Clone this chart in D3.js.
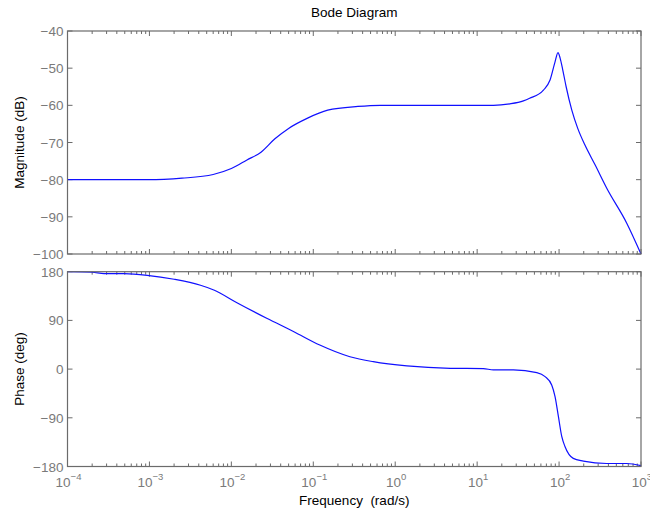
<!DOCTYPE html>
<html lang="en">
<head>
  <meta charset="UTF-8">
  <title>Bode Diagram</title>
  <script src="https://d3js.org/d3.v7.min.js"></script>
  <style>
    body { margin: 0; background: #fff; font-family: "Liberation Sans", Arial, sans-serif; }
    .tick-label { fill: #7a7a7a; font-size: 13.5px; }
    .frame { fill: none; stroke: #6b6b6b; stroke-width: 1.2; }
    .tk { stroke: #6b6b6b; stroke-width: 1; }
    .curve { fill: none; stroke: #1010ff; stroke-width: 1.2; }
    .lbl { fill: #000; font-size: 13.5px; }
  </style>
</head>
<body>
  <svg width="650" height="514"></svg>

  <script>
    // frequency samples (rad/s) and values
    const magFreq = [1e-4, 1e-3, 1.5e-3, 2.5e-3, 6e-3, 1e-2, 1.55e-2, 2.3e-2, 3.4e-2, 5e-2,
                     8.4e-2, 0.15, 0.35, 0.66, 1, 15.8, 25, 36.7, 43.7, 64.4,
                     77.6, 89.3, 97, 103, 111, 122, 143, 169, 207, 275, 382, 670, 1000];
    const magDb = [-80, -80, -79.9, -79.6, -78.6, -77, -74.7, -72.6, -69, -66.2,
                   -63.5, -61.3, -60.3, -60, -60, -60, -59.6, -58.8, -58.1, -55.9,
                   -53.2, -48.3, -45.8, -47.3, -50.5, -55, -61.3, -66.2, -70.7, -76, -82.3, -91.7, -100];

    const phFreq = [1e-4, 2e-4, 2.8e-4, 4.9e-4, 9.4e-4, 2e-3, 4.2e-3, 6.1e-3, 1.17e-2, 2.7e-2,
                    5.8e-2, 0.12, 0.28, 0.54, 1.39, 4.7, 11.9, 15.8, 27.7, 53.5,
                    67.5, 81.3, 89.3, 98.2, 108, 118, 149, 198, 381, 670, 1000];
    const phDeg = [180, 179, 176.3, 176.3, 173.3, 166, 154.9, 146.2, 122.7, 93.9,
                   69.1, 44.5, 22.9, 13.7, 5.8, 1.5, 1, -1.6, -1.6, -6.6,
                   -14, -29.4, -51, -88, -125, -143, -165, -170, -174.5, -174.5, -178.5];

    const magTicks = [-40, -50, -60, -70, -80, -90, -100];
    const phTicks = [180, 90, 0, -90, -180];
    const decades = [-4, -3, -2, -1, 0, 1, 2, 3];

    const svg = d3.select("svg");
    const left = 67.5, right = 641;

    const x = d3.scaleLog().domain([1e-4, 1e3]).range([left, right]);
    const yMag = d3.scaleLinear().domain([-100, -40]).range([254, 31]);
    const yPh = d3.scaleLinear().domain([-180, 180]).range([466.5, 271.7]);

    const minors = [];
    decades.slice(0, -1).forEach(e => {
      for (let k = 2; k <= 9; k++) minors.push(k * Math.pow(10, e));
    });

    function panel(y, ticks, freq, vals, title) {
      const [y0, y1] = y.range();
      const g = svg.append("g");

      // x ticks, top and bottom, pointing in
      decades.forEach(e => {
        const px = x(Math.pow(10, e));
        g.append("line").attr("class", "tk").attr("x1", px).attr("x2", px).attr("y1", y0).attr("y2", y0 - 5);
        g.append("line").attr("class", "tk").attr("x1", px).attr("x2", px).attr("y1", y1).attr("y2", y1 + 5);
      });
      minors.forEach(f => {
        const px = x(f);
        g.append("line").attr("class", "tk").attr("x1", px).attr("x2", px).attr("y1", y0).attr("y2", y0 - 3);
        g.append("line").attr("class", "tk").attr("x1", px).attr("x2", px).attr("y1", y1).attr("y2", y1 + 3);
      });

      // y ticks, left and right
      ticks.forEach(t => {
        const py = y(t);
        g.append("line").attr("class", "tk").attr("x1", left).attr("x2", left + 5).attr("y1", py).attr("y2", py);
        g.append("line").attr("class", "tk").attr("x1", right).attr("x2", right - 5).attr("y1", py).attr("y2", py);
        g.append("text").attr("class", "tick-label")
          .attr("x", left - 4).attr("y", py + 5)
          .attr("text-anchor", "end")
          .text(String(t).replace("-", "\u2212"));
      });

      const line = d3.line()
        .x((d, i) => x(freq[i]))
        .y(d => y(d))
        .curve(d3.curveMonotoneX);
      g.append("path").attr("class", "curve").attr("d", line(vals));

      g.append("rect").attr("class", "frame")
        .attr("x", left).attr("y", y1).attr("width", right - left).attr("height", y0 - y1);

      g.append("text").attr("class", "lbl")
        .attr("transform", `translate(24,${(y0 + y1) / 2}) rotate(-90)`)
        .attr("text-anchor", "middle")
        .text(title);
      return g;
    }

    panel(yMag, magTicks, magFreq, magDb, "Magnitude (dB)");
    panel(yPh, phTicks, phFreq, phDeg, "Phase (deg)");

    // x tick labels as 10^n (the last one runs off the edge, as in the original)
    decades.forEach(e => {
      const t = svg.append("text").attr("class", "tick-label")
        .attr("x", x(Math.pow(10, e)) + 1).attr("y", 487)
        .attr("text-anchor", "middle");
      t.append("tspan").style("font-size", "13.5px").text("10");
      t.append("tspan").attr("dy", -7).style("font-size", "9.5px").text(String(e).replace("-", "\u2212"));
    });

    svg.append("text").attr("class", "lbl")
      .attr("x", (left + right) / 2).attr("y", 17)
      .attr("text-anchor", "middle")
      .text("Bode Diagram");

    svg.append("text").attr("class", "lbl")
      .attr("x", (left + right) / 2).attr("y", 505)
      .attr("text-anchor", "middle")
      .style("white-space", "pre")
      .text("Frequency  (rad/s)");
  </script>
</body>
</html>
